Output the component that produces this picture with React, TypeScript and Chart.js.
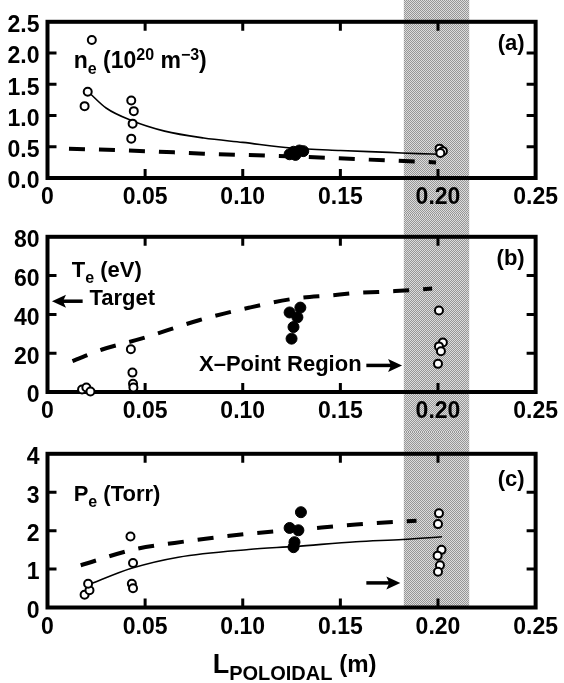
import React, { useEffect, useRef } from "react";
import { Chart, registerables } from "chart.js";
Chart.register(...registerables);

const FONT = "'Liberation Sans', Arial, Helvetica, sans-serif";
const NARROW = "'Liberation Sans Narrow'";

// shared x range / shaded X-point region
const X_MIN = 0;
const X_MAX = 0.25;
const X_STEP = 0.05;
const BAND = [0.1825, 0.216];

// ---------- panel (a) : n_e ----------
const A_OPEN_X = [0.0227, 0.0206, 0.019, 0.0429, 0.0442, 0.0436, 0.0429, 0.2008, 0.2025, 0.2012];
const A_OPEN_Y = [2.21, 1.38, 1.15, 1.24, 1.07, 0.87, 0.63, 0.47, 0.43, 0.4];
const A_FILL_X = [0.124, 0.126, 0.129, 0.131, 0.127];
const A_FILL_Y = [0.38, 0.42, 0.44, 0.43, 0.37];
const A_SOLID_X = [0.0215, 0.03, 0.043, 0.06, 0.08, 0.1, 0.125, 0.15, 0.175, 0.19, 0.2];
const A_SOLID_Y = [1.36, 1.12, 0.92, 0.75, 0.64, 0.57, 0.48, 0.44, 0.41, 0.39, 0.38];
const A_DASH_X = [0.011, 0.05, 0.08, 0.13, 0.16, 0.199];
const A_DASH_Y = [0.469, 0.43, 0.39, 0.34, 0.3, 0.25];

// ---------- panel (b) : T_e ----------
const B_OPEN_X = [0.0177, 0.0199, 0.022, 0.0427, 0.0435, 0.0438, 0.044, 0.2005, 0.2025, 0.2005, 0.2015, 0.2];
const B_OPEN_Y = [1.3, 2.3, 0.3, 22, 10, 4.2, 2.3, 42, 25.5, 23.5, 21, 14.5];
const B_FILL_X = [0.124, 0.1295, 0.128, 0.126, 0.125];
const B_FILL_Y = [41, 43.5, 38.5, 33.5, 27.5];
const B_DASH_X = [0.0128, 0.028, 0.048, 0.0776, 0.103, 0.127, 0.145, 0.158, 0.178, 0.197];
const B_DASH_Y = [15.9, 21.9, 27.5, 37, 43.4, 48.2, 49.8, 51, 52, 53.3];

// ---------- panel (c) : P_e ----------
const C_OPEN_X = [0.019, 0.0215, 0.0208, 0.0425, 0.0438, 0.0432, 0.0438, 0.2005, 0.2, 0.2018, 0.1998, 0.201, 0.2];
const C_OPEN_Y = [0.33, 0.45, 0.62, 1.85, 1.16, 0.62, 0.5, 2.45, 2.17, 1.5, 1.35, 1.1, 0.93];
const C_FILL_X = [0.124, 0.1298, 0.1285, 0.1265, 0.126];
const C_FILL_Y = [2.07, 2.48, 2.01, 1.7, 1.57];
const C_SOLID_X = [0.02, 0.043, 0.067, 0.103, 0.127, 0.158, 0.182, 0.202];
const C_SOLID_Y = [0.57, 1.02, 1.31, 1.51, 1.59, 1.71, 1.77, 1.84];
const C_DASH_X = [0.017, 0.045, 0.065, 0.103, 0.129, 0.158, 0.189];
const C_DASH_Y = [1.1, 1.52, 1.68, 1.92, 2.03, 2.16, 2.26];

type Part = { t: string; size: number; dy: number };
type Txt = { x: number; y: number; parts: Part[]; align: "left" | "right" };
type Arrow = { x1: number; x2: number; y: number };

const zip = (xs: number[], ys: number[]) => xs.map((x, i) => ({ x, y: ys[i] }));
const P = (t: string, size = 22, dy = 0): Part => ({ t, size, dy });

const PANELS = [
  {
    key: "a",
    canvasTop: 0, canvasHeight: 215, areaTop: 14.5, areaBottom: 178,
    yMin: 0, yMax: 2.5, yStep: 0.5, yDec: 1,
    open: zip(A_OPEN_X, A_OPEN_Y), fill: zip(A_FILL_X, A_FILL_Y),
    solid: zip(A_SOLID_X, A_SOLID_Y), dash: zip(A_DASH_X, A_DASH_Y),
    bandToArea: false, last: false,
    texts: [
      { x: 0.0134, y: 1.76, align: "left", parts: [P("n", 23), P("e", 16, 6), P(" (10", 23), P("20", 16, -8), P(" m", 23), P("\u22123", 16, -8), P(")", 23)] },
      { x: 0.2444, y: 2.05, align: "right", parts: [P("(a)")] },
    ] as Txt[],
    arrows: [] as Arrow[],
  },
  {
    key: "b",
    canvasTop: 215, canvasHeight: 217, areaTop: 13, areaBottom: 177,
    yMin: 0, yMax: 80, yStep: 20, yDec: 0,
    open: zip(B_OPEN_X, B_OPEN_Y), fill: zip(B_FILL_X, B_FILL_Y),
    solid: null, dash: zip(B_DASH_X, B_DASH_Y),
    bandToArea: false, last: false,
    texts: [
      { x: 0.0124, y: 59.5, align: "left", parts: [P("T"), P("e", 16, 6), P(" (eV)")] },
      { x: 0.2444, y: 65.4, align: "right", parts: [P("(b)")] },
      { x: 0.0215, y: 44.9, align: "left", parts: [P("Target")] },
      { x: 0.0776, y: 10.8, align: "left", parts: [P("X\u2013Point Region")] },
    ] as Txt[],
    arrows: [{ x1: 0.018, x2: 0.0023, y: 46.8 }, { x1: 0.1633, x2: 0.1816, y: 13.7 }] as Arrow[],
  },
  {
    key: "c",
    canvasTop: 432, canvasHeight: 251, areaTop: 13, areaBottom: 175.5,
    yMin: 0, yMax: 4, yStep: 1, yDec: 0,
    open: zip(C_OPEN_X, C_OPEN_Y), fill: zip(C_FILL_X, C_FILL_Y),
    solid: zip(C_SOLID_X, C_SOLID_Y), dash: zip(C_DASH_X, C_DASH_Y),
    bandToArea: true, last: true,
    texts: [
      { x: 0.0134, y: 2.78, align: "left", parts: [P("P"), P("e", 16, 6), P(" (Torr)")] },
      { x: 0.2444, y: 3.16, align: "right", parts: [P("(c)")] },
    ] as Txt[],
    arrows: [{ x1: 0.1633, x2: 0.1807, y: 0.64 }] as Arrow[],
  },
];

function tickFont() {
  // use the condensed face for tick numbers when it is installed
  const ctx = document.createElement("canvas").getContext("2d")!;
  ctx.font = "bold 40px monospace";
  const w1 = ctx.measureText("0.20 123").width;
  ctx.font = `bold 40px ${NARROW}, monospace`;
  const w2 = ctx.measureText("0.20 123").width;
  if (Math.abs(w1 - w2) > 0.5) return { family: `${NARROW}, ${FONT}`, size: 25 };
  return { family: FONT, size: 23 };
}

function makePattern(ctx: CanvasRenderingContext2D) {
  const c = document.createElement("canvas");
  c.width = 2; c.height = 2;
  const g = c.getContext("2d")!;
  g.fillStyle = "#dcdcdc"; g.fillRect(0, 0, 2, 2);
  g.fillStyle = "#969696"; g.fillRect(0, 0, 1, 1); g.fillRect(1, 1, 1, 1);
  return ctx.createPattern(c, "repeat");
}

function partsWidth(ctx: CanvasRenderingContext2D, parts: Part[]) {
  let w = 0;
  for (const p of parts) { ctx.font = `bold ${p.size}px ${FONT}`; w += ctx.measureText(p.t).width; }
  return w;
}
function drawParts(ctx: CanvasRenderingContext2D, x: number, y: number, parts: Part[]) {
  ctx.textAlign = "left"; ctx.textBaseline = "alphabetic"; ctx.fillStyle = "#000";
  let cx = x;
  for (const p of parts) {
    ctx.font = `bold ${p.size}px ${FONT}`;
    ctx.fillText(p.t, cx, y + p.dy);
    cx += ctx.measureText(p.t).width;
  }
}
function drawArrow(ctx: CanvasRenderingContext2D, x1: number, x2: number, y: number) {
  const d = Math.sign(x2 - x1);
  ctx.strokeStyle = "#000"; ctx.fillStyle = "#000"; ctx.lineWidth = 3.5; ctx.lineCap = "butt";
  ctx.beginPath(); ctx.moveTo(x1, y); ctx.lineTo(x2 - d * 10, y); ctx.stroke();
  ctx.beginPath(); ctx.moveTo(x2, y); ctx.lineTo(x2 - d * 14, y - 6.5); ctx.lineTo(x2 - d * 11, y); ctx.lineTo(x2 - d * 14, y + 6.5); ctx.closePath(); ctx.fill();
}

function Panel({ cfg }: { cfg: (typeof PANELS)[number] }) {
  const ref = useRef<HTMLCanvasElement>(null);
  useEffect(() => {
    const canvas = ref.current!;
    const tf = tickFont();
    const plugin = {
      id: "decor",
      beforeDraw(chart: any) {
        const { ctx, chartArea, scales } = chart;
        const x0 = scales.x.getPixelForValue(BAND[0]);
        const x1 = scales.x.getPixelForValue(BAND[1]);
        ctx.save();
        ctx.fillStyle = makePattern(ctx) || "#b8b8b8";
        ctx.fillRect(x0, 0, x1 - x0, cfg.bandToArea ? chartArea.bottom : chart.height);
        ctx.restore();
      },
      beforeDatasetsDraw(chart: any) {
        const { ctx, chartArea: a, scales } = chart;
        ctx.save();
        ctx.strokeStyle = "#000";
        ctx.lineWidth = 3;
        const TL = 9;
        ctx.beginPath();
        scales.x.ticks.forEach((t: any) => {
          if (t.value <= X_MIN + 1e-9 || t.value >= X_MAX - 1e-9) return;
          const px = scales.x.getPixelForValue(t.value);
          ctx.moveTo(px, a.bottom); ctx.lineTo(px, a.bottom - TL);
          ctx.moveTo(px, a.top); ctx.lineTo(px, a.top + TL);
        });
        scales.y.ticks.forEach((t: any) => {
          if (t.value <= cfg.yMin + 1e-9 || t.value >= cfg.yMax - 1e-9) return;
          const py = scales.y.getPixelForValue(t.value);
          ctx.moveTo(a.left, py); ctx.lineTo(a.left + TL, py);
          ctx.moveTo(a.right, py); ctx.lineTo(a.right - TL, py);
        });
        ctx.stroke();
        ctx.lineWidth = 4;
        ctx.strokeRect(a.left, a.top, a.right - a.left, a.bottom - a.top);
        ctx.restore();
      },
      afterDraw(chart: any) {
        const { ctx, chartArea: a, scales } = chart;
        ctx.save();
        for (const t of cfg.texts) {
          let px = scales.x.getPixelForValue(t.x);
          const py = scales.y.getPixelForValue(t.y);
          if (t.align === "right") px -= partsWidth(ctx, t.parts);
          drawParts(ctx, px, py, t.parts);
        }
        for (const ar of cfg.arrows) {
          drawArrow(ctx, scales.x.getPixelForValue(ar.x1), scales.x.getPixelForValue(ar.x2), scales.y.getPixelForValue(ar.y));
        }
        if (cfg.last) {
          const title = [P("L", 27, 0), P("POLOIDAL", 20, 7), P(" (m)", 24, -1)];
          const w = partsWidth(ctx, title);
          drawParts(ctx, (a.left + a.right) / 2 - w / 2 + 3, a.bottom + 65.5, title);
        }
        ctx.restore();
      },
    };

    const datasets: any[] = [
      {
        data: cfg.fill, order: 0, clip: false, showLine: false,
        pointRadius: 5.5, pointBackgroundColor: "#000", pointBorderColor: "#000", pointBorderWidth: 1,
      },
      {
        data: cfg.open, order: 0, clip: false, showLine: false,
        pointRadius: 4, pointBackgroundColor: "#fff", pointBorderColor: "#000", pointBorderWidth: 2,
      },
      {
        data: cfg.dash, order: 2, clip: false, showLine: true, pointRadius: 0,
        borderColor: "#000", borderWidth: 4, borderDash: [16, 14], borderCapStyle: "butt",
        cubicInterpolationMode: "monotone", fill: false,
      },
    ];
    if (cfg.solid) {
      datasets.push({
        data: cfg.solid, order: 1, clip: false, showLine: true, pointRadius: 0,
        borderColor: "#000", borderWidth: 1.6, cubicInterpolationMode: "monotone", fill: false,
      });
    }

    const chart = new Chart(canvas, {
      type: "scatter",
      data: { datasets },
      options: {
        animation: false,
        responsive: false,
        devicePixelRatio: 1,
        layout: { padding: { top: cfg.areaTop, right: 22, left: 0, bottom: 0 } },
        plugins: { legend: { display: false }, tooltip: { enabled: false } },
        events: [],
        scales: {
          x: {
            type: "linear", min: X_MIN, max: X_MAX,
            grid: { display: false, drawTicks: false },
            border: { display: false },
            afterFit: (s: any) => { s.height = cfg.canvasHeight - cfg.areaBottom; },
            ticks: {
              stepSize: X_STEP, padding: 6, color: "#000", maxRotation: 0, autoSkip: false,
              font: { family: tf.family, size: tf.size, weight: "bold" },
              callback: (v: any) => (Math.abs(v) < 1e-9 ? "0" : Number(v).toFixed(2)),
            },
          },
          y: {
            type: "linear", min: cfg.yMin, max: cfg.yMax,
            grid: { display: false, drawTicks: false },
            border: { display: false },
            afterFit: (s: any) => { s.width = 47.5; },
            ticks: {
              stepSize: cfg.yStep, padding: 8, color: "#000", autoSkip: false, labelOffset: 4,
              font: { family: tf.family, size: tf.size, weight: "bold" },
              callback: (v: any) => Number(v).toFixed(cfg.yDec),
            },
          },
        },
      } as any,
      plugins: [plugin],
    });
    return () => chart.destroy();
  }, []);
  return (
    <canvas
      ref={ref}
      width={564}
      height={cfg.canvasHeight}
      style={{ position: "absolute", left: 0, top: cfg.canvasTop, display: "block" }}
    />
  );
}

export default function App() {
  return (
    <div style={{ position: "absolute", left: 0, top: 0, width: 564, height: 683, background: "#fff", overflow: "hidden" }}>
      {PANELS.map((p) => (
        <Panel key={p.key} cfg={p} />
      ))}
    </div>
  );
}
